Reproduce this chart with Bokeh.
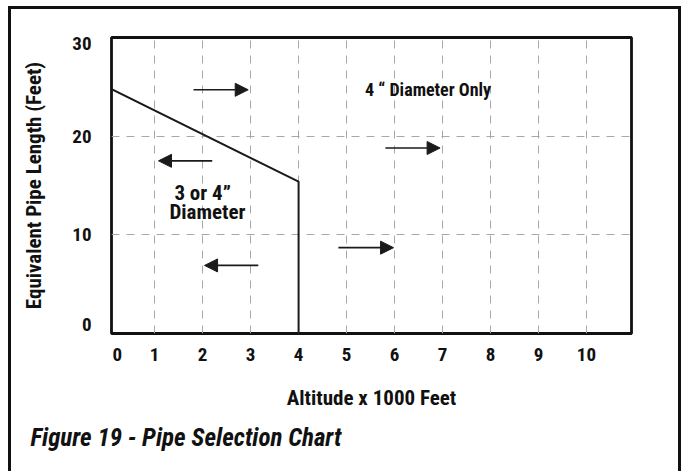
from bokeh.plotting import figure
from bokeh.models import (FixedTicker, Arrow, NormalHead, ColumnDataSource, Title)
from bokeh.core.properties import value
from bokeh.embed import file_html
from bokeh.resources import INLINE

# ---- data ----
x_tick_pos = [0.22, 1, 2, 3, 4, 5, 6, 7, 8, 9, 10]
x_tick_labels = ["0", "1", "2", "3", "4", "5", "6", "7", "8", "9", "10"]
y_tick_pos = [0.9, 10, 20, 29.4]
y_tick_labels = ["0", "10", "20", "30"]
x_grid = [1, 2, 3, 4, 5, 6, 7, 8, 9, 10]
y_grid = [10, 20]

boundary_alt = [0, 4, 4]
boundary_len = [25, 15.4, 0]

arrow_x0 = [1.81, 2.20, 5.81, 4.83, 3.16]
arrow_x1 = [2.95, 1.08, 6.95, 5.98, 2.04]
arrow_y = [24.7, 17.5, 18.8, 8.7, 6.9]

region_text = ["4 \u201c Diameter Only"]
region_x = [6.7]
region_y = [24.7]
zone_text = ["3 or 4\u201d", "Diameter"]
zone_x = [2.0, 2.1]
zone_y = [14.2, 12.36]

FONT = "'Roboto Condensed', 'DejaVu Sans Condensed', 'Liberation Sans Narrow', Roboto, sans-serif"

p = figure(width=673, height=465, x_range=(0.1, 10.94), y_range=(0, 30),
           output_backend="svg", toolbar_location=None,
           min_border_left=103, min_border_top=31, min_border_right=50,
           min_border_bottom=138)
p.border_fill_alpha = 0
p.styles = {"box-shadow": "inset 3px 0 0 #111, inset -3px 0 0 #111, inset 0 3px 0 #111",
            "background": "white", "margin-left": "8px", "margin-top": "6px"}

p.outline_line_color = "#111"
p.outline_line_width = 2.8

for ax in (p.xaxis[0], p.yaxis[0]):
    ax.axis_line_color = None
    ax.major_tick_line_color = None
    ax.minor_tick_line_color = None
    ax.major_label_text_font = FONT
    ax.major_label_text_font_style = "bold"
    ax.major_label_text_font_size = "19px"
    ax.major_label_text_color = "#111"
    ax.axis_label_text_font = FONT
    ax.axis_label_text_font_style = "bold"
    ax.axis_label_text_color = "#111"

p.xaxis.axis_label_text_font_size = "21px"
p.yaxis.axis_label_text_font_size = "21px"
p.xaxis.ticker = FixedTicker(ticks=x_tick_pos)
p.xaxis.major_label_overrides = {k: v for k, v in zip(x_tick_pos, x_tick_labels)}
p.yaxis.ticker = FixedTicker(ticks=y_tick_pos)
p.yaxis.major_label_overrides = {k: v for k, v in zip(y_tick_pos, y_tick_labels)}
p.xaxis.major_label_standoff = 8
p.yaxis.major_label_standoff = 14
p.xaxis.axis_label = "Altitude x 1000 Feet"
p.yaxis.axis_label = "Equivalent Pipe Length (Feet)"
p.xaxis.axis_label_standoff = 22
p.yaxis.axis_label_standoff = 23

p.xgrid.ticker = FixedTicker(ticks=x_grid)
p.ygrid.ticker = FixedTicker(ticks=y_grid)
for g in (p.xgrid[0], p.ygrid[0]):
    g.grid_line_color = "#a8a8a8"
    g.grid_line_width = 1
    g.grid_line_dash = "8 7"

p.line(boundary_alt, boundary_len, line_color="#1a1a1a", line_width=2)

src = ColumnDataSource(dict(x0=arrow_x0, x1=arrow_x1, y=arrow_y))
p.add_layout(Arrow(end=NormalHead(size=13, fill_color="#1a1a1a", line_color="#1a1a1a"),
                   x_start="x0", y_start="y", x_end="x1", y_end="y",
                   line_width=1.6, line_color="#1a1a1a", source=src))

p.text(x=region_x, y=region_y, text=region_text, text_font=value(FONT),
       text_font_style="bold", text_font_size="18px", text_color="#111",
       text_align="center", text_baseline="middle")
p.text(x=zone_x, y=zone_y, text=zone_text, text_font=value(FONT),
       text_font_style="bold", text_font_size="21px", text_color="#111",
       text_align="center", text_baseline="middle")

cap = Title(text="Figure 19 - Pipe Selection Chart", align="left", offset=-81,
            text_font=FONT, text_font_style="bold italic", text_font_size="25px",
            text_color="#111", standoff=16)
p.add_layout(cap, "below")

open("out.html", "w").write(file_html(p, INLINE))
